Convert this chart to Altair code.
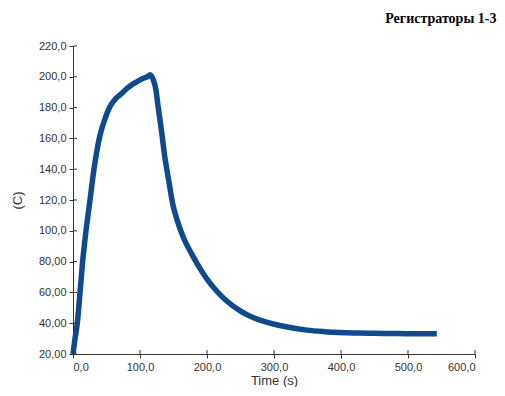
import altair as alt
import pandas as pd

# time (s) and temperature (C)
time_s = [0, 3, 6.4, 10.5, 14.4, 19.4, 25.4, 31.3, 40, 48, 55, 63, 72.6, 82, 95, 105, 112, 115,
          119.9, 123.9, 126.4, 129.9, 133.3, 136.3, 140.3, 143.5, 148.8, 155.7, 164.6, 177.1, 192,
          200, 215, 229, 249, 264, 279, 299, 320, 349, 375, 398, 425, 448, 475, 498, 520, 543]
temp_c = [20, 30, 40, 60, 80, 100, 120, 140, 161.5, 173, 180.5, 185.5, 189.2, 193, 196.7, 199, 200.3, 201.3,
          197.9, 191.3, 182.7, 171.8, 160.9, 150.1, 139.2, 131, 117.5, 106.6, 95.8, 85, 73.8,
          68.6, 60.6, 54.6, 48.2, 44.6, 42.0, 39.5, 37.5, 35.5, 34.5, 33.9, 33.6, 33.4, 33.3, 33.2, 33.2, 33.2]

x_ticks = [0, 100, 200, 300, 400, 500, 600]
y_ticks = [20, 40, 60, 80, 100, 120, 140, 160, 180, 200, 220]

W, H = 402, 308
AX = "#333333"

df = pd.DataFrame({"t": time_s, "T": temp_c})

num_expr_x = "replace(format(datum.value, '.1f'), '.', ',')"
num_expr_y = ("datum.value >= 100 ? replace(format(datum.value, '.1f'), '.', ',') "
              ": replace(format(datum.value, '.2f'), '.', ',')")

xscale = alt.Scale(domain=[0, 600], nice=False)
yscale = alt.Scale(domain=[20, 220], nice=False)

xaxis = alt.Axis(values=x_ticks, labelExpr=num_expr_x,
                 grid=False, domainColor=AX, tickColor=AX, tickSize=4,
                 labelColor=AX, labelFont="Liberation Sans", labelFontSize=11,
                 titleFont="Liberation Sans", titleFontSize=13, titleFontWeight="normal",
                 titleColor=AX, titlePadding=2, labelPadding=3)
yaxis = alt.Axis(values=y_ticks, labelExpr=num_expr_y,
                 grid=False, domainColor=AX, tickColor=AX, tickSize=4,
                 labelColor=AX, labelFont="Liberation Sans", labelFontSize=11,
                 titleFont="Liberation Sans", titleFontSize=13, titleFontWeight="normal",
                 titleColor=AX, titlePadding=14, labelPadding=3)

line = alt.Chart(df).mark_line(color="#0f4a8c", strokeWidth=5.5, interpolate="monotone").encode(
    x=alt.X("t:Q", title="Time (s)", scale=xscale, axis=xaxis),
    y=alt.Y("T:Q", title="(C)", scale=yscale, axis=yaxis),
)

# inward halves of the crossing tick marks
ytick_in = alt.Chart(pd.DataFrame({"T": y_ticks})).mark_rule(color=AX, strokeWidth=1).encode(
    y=alt.Y("T:Q", title="(C)", scale=yscale, axis=yaxis), x=alt.value(0), x2=alt.value(4))
xtick_in = alt.Chart(pd.DataFrame({"t": x_ticks})).mark_rule(color=AX, strokeWidth=1).encode(
    x=alt.X("t:Q", title="Time (s)", scale=xscale, axis=xaxis), y=alt.value(H - 4), y2=alt.value(H))

chart = alt.layer(line, ytick_in, xtick_in).properties(
    width=W, height=H,
    padding={"left": 3, "top": 4, "right": 0, "bottom": 0},
    title=alt.TitleParams("Регистраторы 1-3", anchor="end", font="Liberation Serif",
                          fontSize=14, fontWeight="bold", color="#000", dx=21, offset=14),
).configure_view(stroke=None)

chart.save("out.html", embed_options={"renderer": "svg", "actions": False})
